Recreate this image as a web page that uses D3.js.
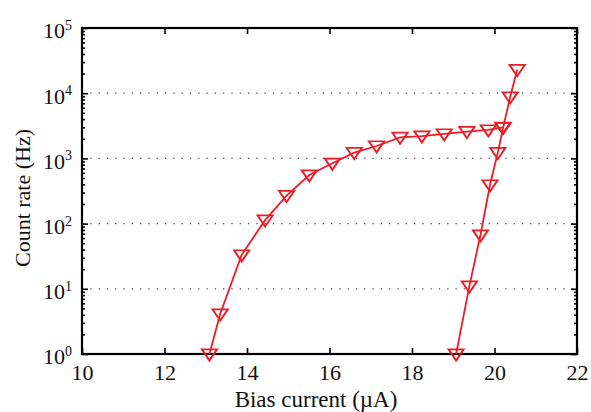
<!DOCTYPE html>
<html>
<head>
<meta charset="utf-8">
<script src="https://cdn.jsdelivr.net/npm/d3@7"></script>
<style>
  body { margin: 0; background: #fff; }
  svg { display: block; font-family: "Liberation Serif", "Times New Roman", serif; }
</style>
</head>
<body>
<div id="chart"></div>
<script>
// rising curve (sweep 1)
const biasA = [13.09, 13.35, 13.87, 14.44, 14.96, 15.51, 16.07, 16.60, 17.14, 17.71, 18.24, 18.78, 19.33, 19.85, 20.20];
const rateA = [1.0, 4.1, 33, 113, 268, 556, 841, 1225, 1550, 2100, 2200, 2370, 2570, 2730, 3000];
// steep curve (sweep 2)
const biasB = [19.07, 19.39, 19.66, 19.89, 20.08, 20.21, 20.38, 20.55];
const rateB = [1.0, 11.0, 66.8, 391, 1225, 2960, 8750, 23000];

const xTicks = [10, 12, 14, 16, 18, 20, 22];
const yExps = [0, 1, 2, 3, 4, 5];

const W = 591, H = 412;
const margin = { top: 28, right: 14, bottom: 58, left: 82 };
const width = W - margin.left - margin.right,
    height = H - margin.top - margin.bottom;
const red = "#ec1c24";

const svg = d3.select("#chart").append("svg")
    .attr("width", W)
    .attr("height", H);
const g = svg.append("g").attr("transform", `translate(${margin.left},${margin.top})`);

const x = d3.scaleLinear().domain([10, 22]).range([0, width]);
const y = d3.scaleLog().domain([1, 1e5]).range([height, 0]);

// dotted horizontal grid
g.append("g")
    .selectAll("line")
    .data(yExps.slice(1, -1))
    .join("line")
    .attr("x1", 0).attr("x2", width)
    .attr("y1", d => y(Math.pow(10, d))).attr("y2", d => y(Math.pow(10, d)))
    .attr("stroke", "#444")
    .attr("stroke-width", 1.2)
    .attr("stroke-dasharray", "1.2,7.1");

// minor log ticks
const minor = [];
yExps.slice(0, -1).forEach(e => { for (let m = 2; m <= 9; m++) minor.push(m * Math.pow(10, e)); });

g.append("g").call(d3.axisLeft(y).tickValues(minor).tickSize(-3).tickFormat(""));
g.append("g").attr("transform", `translate(${width},0)`)
    .call(d3.axisRight(y).tickValues(minor).tickSize(-3).tickFormat(""));

// major ticks
const yAxis = g.append("g")
    .call(d3.axisLeft(y).tickValues(yExps.map(e => Math.pow(10, e))).tickSize(-6).tickPadding(10));
yAxis.selectAll("text").each(function (d) {
    const t = d3.select(this).text(null);
    t.append("tspan").text("10");
    t.append("tspan").attr("dy", "-0.6em").attr("font-size", "14px").text(Math.round(Math.log10(d)));
}).attr("dy", "0.45em");
g.append("g").attr("transform", `translate(${width},0)`)
    .call(d3.axisRight(y).tickValues(yExps.map(e => Math.pow(10, e))).tickSize(-6).tickFormat(""));

g.append("g").attr("transform", `translate(0,${height})`)
    .call(d3.axisBottom(x).tickValues(xTicks).tickSize(-6).tickPadding(10).tickFormat(d3.format("d")));
g.append("g")
    .call(d3.axisTop(x).tickValues(xTicks).tickSize(-6).tickFormat(""));

g.selectAll(".domain").remove();
g.selectAll(".tick line").attr("stroke", "#000").attr("stroke-width", 1.6);
g.selectAll(".tick text").attr("font-size", "22px").attr("fill", "#111").attr("font-family", "Liberation Serif, serif");

// frame
g.append("rect")
    .attr("width", width).attr("height", height)
    .attr("fill", "none").attr("stroke", "#000").attr("stroke-width", 2.2);

// data
const line = d3.line().x(d => x(d[0])).y(d => y(d[1]));
const tri = d3.symbol().type(d3.symbolTriangle).size(80);
[[biasA, rateA], [biasB, rateB]].forEach(([bx, ry]) => {
    const pts = bx.map((b, i) => [b, ry[i]]);
    g.append("path").datum(pts)
        .attr("d", line)
        .attr("fill", "none").attr("stroke", red).attr("stroke-width", 1.8);
    g.append("g").selectAll("path").data(pts).join("path")
        .attr("d", tri)
        .attr("transform", d => `translate(${x(d[0])},${y(d[1]) - 1}) rotate(180) scale(1.12,0.95)`)
        .attr("fill", "none").attr("stroke", red).attr("stroke-width", 1.8);
});

// axis titles
svg.append("text")
    .attr("x", 316).attr("y", 407)
    .attr("text-anchor", "middle").attr("font-size", "23px").attr("fill", "#111")
    .text("Bias current (\u00b5A)");
svg.append("text")
    .attr("transform", `translate(30,198) rotate(-90)`)
    .attr("text-anchor", "middle").attr("font-size", "22px").attr("fill", "#111")
    .text("Count rate (Hz)");
</script>
</body>
</html>
